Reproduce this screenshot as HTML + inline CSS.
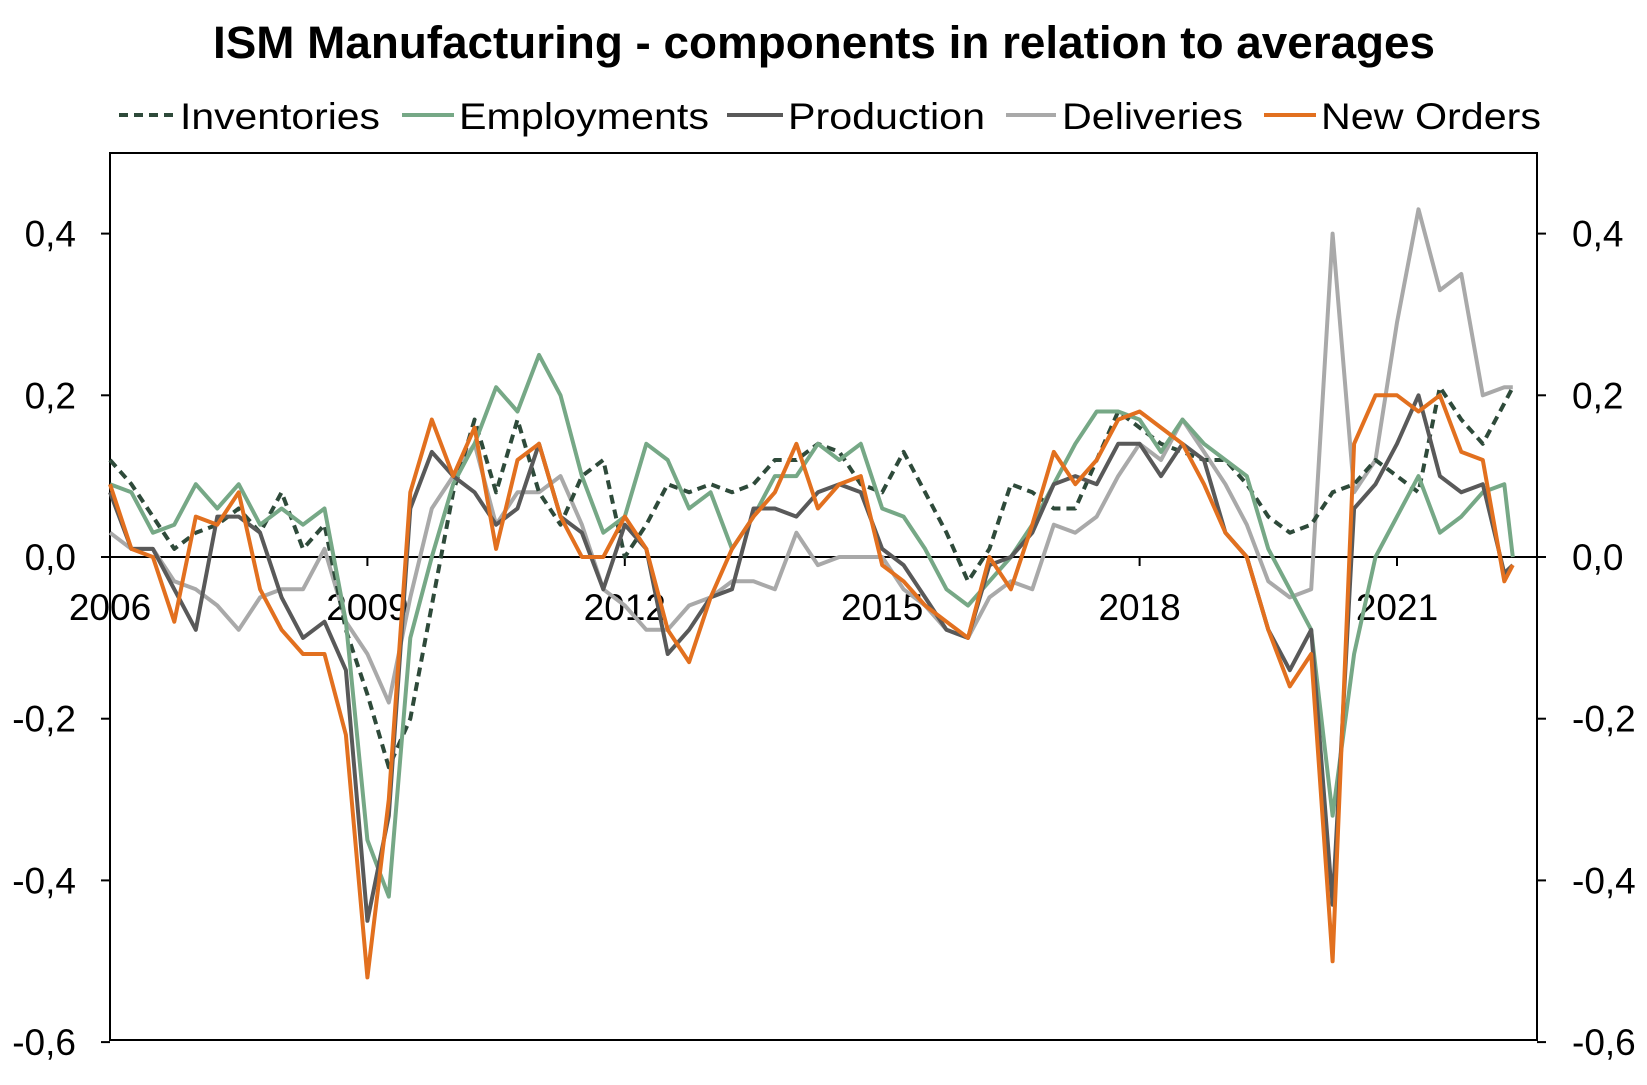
<!DOCTYPE html>
<html><head><meta charset="utf-8">
<style>
html,body{margin:0;padding:0;background:#fff;}
svg{display:block;font-family:"Liberation Sans",Arial,sans-serif;}
</style></head>
<body>
<svg id="chart" width="1647" height="1085" viewBox="0 0 1647 1085" xmlns="http://www.w3.org/2000/svg">
<text x="824" y="58" text-anchor="middle" font-size="45" font-weight="bold" fill="#000" textLength="1222" lengthAdjust="spacingAndGlyphs">ISM Manufacturing - components in relation to averages</text>
<g id="legend" font-size="37" fill="#000"></g>
<g id="plot"></g>
</svg>
<script>
const tickValues = [-0.6,-0.4,-0.2,0,0.2,0.4];
const tickLabels = ["-0,6","-0,4","-0,2","0,0","0,2","0,4"];
const yearTicks = [2006,2009,2012,2015,2018,2021];
const seriesNames = ["Inventories","Employments","Production","Deliveries","New Orders"];
const inventories = [0.12,0.09,0.05,0.01,0.03,0.04,0.06,0.03,0.08,0.01,0.04,-0.09,-0.17,-0.26,-0.20,-0.06,0.08,0.17,0.08,0.17,0.08,0.04,0.10,0.12,0.0,0.04,0.09,0.08,0.09,0.08,0.09,0.12,0.12,0.14,0.13,0.09,0.08,0.13,0.08,0.03,-0.03,0.01,0.09,0.08,0.06,0.06,0.12,0.18,0.16,0.14,0.13,0.12,0.12,0.09,0.05,0.03,0.04,0.08,0.09,0.12,0.10,0.08,0.21,0.17,0.14,0.19,0.21];
const employments = [0.09,0.08,0.03,0.04,0.09,0.06,0.09,0.04,0.06,0.04,0.06,-0.08,-0.35,-0.42,-0.10,0.0,0.09,0.14,0.21,0.18,0.25,0.20,0.10,0.03,0.05,0.14,0.12,0.06,0.08,0.01,0.05,0.10,0.10,0.14,0.12,0.14,0.06,0.05,0.01,-0.04,-0.06,-0.03,0.0,0.04,0.09,0.14,0.18,0.18,0.17,0.13,0.17,0.14,0.12,0.10,0.01,-0.04,-0.09,-0.32,-0.12,0.0,0.05,0.10,0.03,0.05,0.08,0.09,0.0];
const production = [0.08,0.01,0.01,-0.04,-0.09,0.05,0.05,0.03,-0.05,-0.10,-0.08,-0.14,-0.45,-0.32,0.06,0.13,0.10,0.08,0.04,0.06,0.14,0.05,0.03,-0.04,0.04,0.01,-0.12,-0.09,-0.05,-0.04,0.06,0.06,0.05,0.08,0.09,0.08,0.01,-0.01,-0.05,-0.09,-0.10,-0.01,0.0,0.03,0.09,0.10,0.09,0.14,0.14,0.10,0.14,0.12,0.03,0.0,-0.09,-0.14,-0.09,-0.43,0.06,0.09,0.14,0.20,0.10,0.08,0.09,-0.02,-0.01];
const deliveries = [0.03,0.01,0.01,-0.03,-0.04,-0.06,-0.09,-0.05,-0.04,-0.04,0.01,-0.08,-0.12,-0.18,-0.05,0.06,0.10,0.14,0.04,0.08,0.08,0.10,0.04,-0.04,-0.06,-0.09,-0.09,-0.06,-0.05,-0.03,-0.03,-0.04,0.03,-0.01,0.0,0.0,0.0,-0.04,-0.06,-0.09,-0.10,-0.05,-0.03,-0.04,0.04,0.03,0.05,0.10,0.14,0.12,0.17,0.13,0.09,0.04,-0.03,-0.05,-0.04,0.40,0.08,0.12,0.29,0.43,0.33,0.35,0.20,0.21,0.21];
const newOrders = [0.09,0.01,0.0,-0.08,0.05,0.04,0.08,-0.04,-0.09,-0.12,-0.12,-0.22,-0.52,-0.30,0.08,0.17,0.10,0.16,0.01,0.12,0.14,0.05,0.0,0.0,0.05,0.01,-0.09,-0.13,-0.05,0.01,0.05,0.08,0.14,0.06,0.09,0.10,-0.01,-0.03,-0.06,-0.08,-0.10,0.0,-0.04,0.04,0.13,0.09,0.12,0.17,0.18,0.16,0.14,0.09,0.03,0.0,-0.09,-0.16,-0.12,-0.50,0.14,0.20,0.20,0.18,0.20,0.13,0.12,-0.03,-0.01];

const NS="http://www.w3.org/2000/svg";
const L=110,R=1537,T=153,B=1040;
const xOf=t=>L+(t-2006)*85.8;
const yOf=v=>557-v*808.5;
const dateOf=i=> i<66 ? 2006+i*0.25 : 2022.35;
const plot=document.getElementById('plot');
function mk(tag,attrs,parent){const e=document.createElementNS(NS,tag);for(const k in attrs)e.setAttribute(k,attrs[k]);parent.appendChild(e);return e;}

let fr=mk('rect',{x:L,y:T,width:R-L,height:B-T,fill:'none',stroke:'#000','stroke-width':2},plot);


tickValues.forEach((v,i)=>{
  const y=yOf(v);
  let t1=mk('line',{x1:L-9,x2:L,y1:y,y2:y,stroke:'#000','stroke-width':2},plot);
  
  
  let t2=mk('line',{x1:R,x2:R+9,y1:y,y2:y,stroke:'#000','stroke-width':2},plot);
  
  
  let a=mk('text',{x:76,y:y+13,'text-anchor':'end','font-size':37,fill:'#000'},plot);
  a.textContent=tickLabels[i];
  
  
  let b=mk('text',{x:1572,y:y+13,'text-anchor':'start','font-size':37,fill:'#000'},plot);
  b.textContent=tickLabels[i];
  
  
});
let z=mk('line',{x1:L,x2:R,y1:yOf(0),y2:yOf(0),stroke:'#000','stroke-width':2},plot);


yearTicks.forEach(yr=>{
  const x=xOf(yr);
  let tk=mk('line',{x1:x,x2:x,y1:yOf(0),y2:yOf(0)+9,stroke:'#000','stroke-width':2},plot);
  
  
  let lb=mk('text',{x:x,y:620,'text-anchor':'middle','font-size':37,fill:'#000'},plot);
  lb.textContent=yr;
  
  
});
const styles=[
 {data:inventories,color:'#2E4A3A',dash:'9,6',name:'inventories-line'},
 {data:employments,color:'#76A886',dash:'',name:'employments-line'},
 {data:production,color:'#595959',dash:'',name:'production-line'},
 {data:deliveries,color:'#A9A9A9',dash:'',name:'deliveries-line'},
 {data:newOrders,color:'#E2701F',dash:'',name:'new-orders-line'}
];
const drawOrder=[3,0,1,2,4];
drawOrder.forEach(k=>{
  const s=styles[k];
  const pts=s.data.map((v,i)=>xOf(dateOf(i)).toFixed(1)+','+yOf(v).toFixed(1)).join(' ');
  const p=mk('polyline',{points:pts,fill:'none',stroke:s.color,'stroke-width':4,'stroke-linejoin':'round'},plot);
  if(s.dash)p.setAttribute('stroke-dasharray',s.dash);
  
  
});
const legend=document.getElementById('legend');
const legPos=[[119,173,180,200],[402,454,459,250],[727,783,788,197],[1006,1056,1062,181],[1264,1316,1321,220]];
seriesNames.forEach((n,i)=>{
  const s=styles[i];const [x1,x2,tx,w]=legPos[i];
  const ln=mk('line',{x1:x1,x2:x2,y1:115,y2:115,stroke:s.color,'stroke-width':4},legend);
  if(s.dash)ln.setAttribute('stroke-dasharray','9,6');
  
  
  const t=mk('text',{x:tx,y:129,'font-size':37,fill:'#000',textLength:w,lengthAdjust:'spacingAndGlyphs'},legend);
  t.textContent=n;
  
  
});
</script>
</body></html>
